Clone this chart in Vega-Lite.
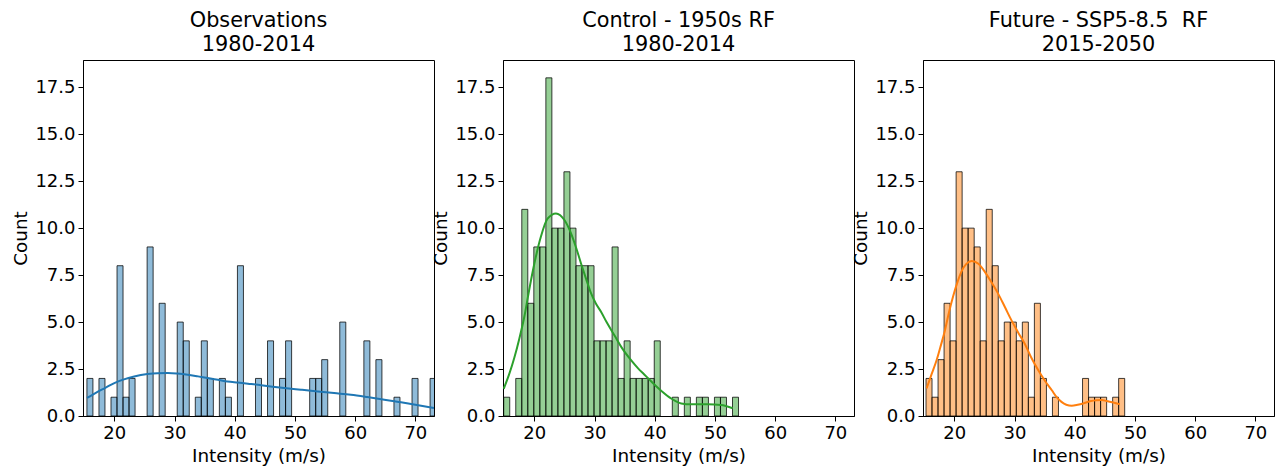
{
  "$schema": "https://vega.github.io/schema/vega-lite/v6.json",
  "padding": {"left": 11, "top": 9, "right": 4, "bottom": 2},
  "background": "white",
  "config": {
    "font": "DejaVu Sans",
    "view": {"stroke": "black", "strokeWidth": 1},
    "axis": {
      "labelFont": "DejaVu Sans", "titleFont": "DejaVu Sans",
      "labelFontSize": 18, "titleFontSize": 18.4,
      "labelColor": "black", "titleColor": "black", "titleFontWeight": "normal",
      "tickColor": "black", "domainColor": "black", "tickSize": 5, "tickWidth": 1,
      "labelPadding": 3, "titlePadding": 4, "grid": false
    },
    "title": {"font": "DejaVu Sans", "fontSize": 20.8, "fontWeight": "normal", "color": "black", "lineHeight": 24, "offset": 4}
  },
  "datasets": {
    "hist": [
      {"p": "obs", "lo": 15.45, "hi": 16.45, "n": 2},
      {"p": "obs", "lo": 17.45, "hi": 18.45, "n": 2},
      {"p": "obs", "lo": 19.45, "hi": 20.45, "n": 1},
      {"p": "obs", "lo": 20.45, "hi": 21.45, "n": 8},
      {"p": "obs", "lo": 21.45, "hi": 22.45, "n": 1},
      {"p": "obs", "lo": 22.45, "hi": 23.45, "n": 2},
      {"p": "obs", "lo": 25.45, "hi": 26.45, "n": 9},
      {"p": "obs", "lo": 27.45, "hi": 28.45, "n": 6},
      {"p": "obs", "lo": 30.45, "hi": 31.45, "n": 5},
      {"p": "obs", "lo": 31.45, "hi": 32.45, "n": 4},
      {"p": "obs", "lo": 33.45, "hi": 34.45, "n": 1},
      {"p": "obs", "lo": 34.45, "hi": 35.45, "n": 4},
      {"p": "obs", "lo": 35.45, "hi": 36.45, "n": 2},
      {"p": "obs", "lo": 37.45, "hi": 38.45, "n": 2},
      {"p": "obs", "lo": 38.45, "hi": 39.45, "n": 1},
      {"p": "obs", "lo": 40.45, "hi": 41.45, "n": 8},
      {"p": "obs", "lo": 43.45, "hi": 44.45, "n": 2},
      {"p": "obs", "lo": 45.45, "hi": 46.45, "n": 4},
      {"p": "obs", "lo": 47.45, "hi": 48.45, "n": 2},
      {"p": "obs", "lo": 48.45, "hi": 49.45, "n": 4},
      {"p": "obs", "lo": 52.45, "hi": 53.45, "n": 2},
      {"p": "obs", "lo": 53.45, "hi": 54.45, "n": 2},
      {"p": "obs", "lo": 54.45, "hi": 55.45, "n": 3},
      {"p": "obs", "lo": 57.45, "hi": 58.45, "n": 5},
      {"p": "obs", "lo": 61.45, "hi": 62.45, "n": 4},
      {"p": "obs", "lo": 63.45, "hi": 64.45, "n": 3},
      {"p": "obs", "lo": 66.45, "hi": 67.45, "n": 1},
      {"p": "obs", "lo": 69.45, "hi": 70.45, "n": 2},
      {"p": "obs", "lo": 72.45, "hi": 73.45, "n": 2},
      {"p": "ctl", "lo": 14.92, "hi": 15.92, "n": 1},
      {"p": "ctl", "lo": 16.92, "hi": 17.92, "n": 2},
      {"p": "ctl", "lo": 17.92, "hi": 18.92, "n": 11},
      {"p": "ctl", "lo": 18.92, "hi": 19.92, "n": 6},
      {"p": "ctl", "lo": 19.92, "hi": 20.92, "n": 9},
      {"p": "ctl", "lo": 20.92, "hi": 21.92, "n": 9},
      {"p": "ctl", "lo": 21.92, "hi": 22.92, "n": 18},
      {"p": "ctl", "lo": 22.92, "hi": 23.92, "n": 10},
      {"p": "ctl", "lo": 23.92, "hi": 24.92, "n": 10},
      {"p": "ctl", "lo": 24.92, "hi": 25.92, "n": 13},
      {"p": "ctl", "lo": 25.92, "hi": 26.92, "n": 10},
      {"p": "ctl", "lo": 26.92, "hi": 27.92, "n": 8},
      {"p": "ctl", "lo": 27.92, "hi": 28.92, "n": 8},
      {"p": "ctl", "lo": 28.92, "hi": 29.92, "n": 8},
      {"p": "ctl", "lo": 29.92, "hi": 30.92, "n": 4},
      {"p": "ctl", "lo": 30.92, "hi": 31.92, "n": 4},
      {"p": "ctl", "lo": 31.92, "hi": 32.92, "n": 4},
      {"p": "ctl", "lo": 32.92, "hi": 33.92, "n": 9},
      {"p": "ctl", "lo": 33.92, "hi": 34.92, "n": 2},
      {"p": "ctl", "lo": 34.92, "hi": 35.92, "n": 4},
      {"p": "ctl", "lo": 35.92, "hi": 36.92, "n": 2},
      {"p": "ctl", "lo": 36.92, "hi": 37.92, "n": 2},
      {"p": "ctl", "lo": 37.92, "hi": 38.92, "n": 2},
      {"p": "ctl", "lo": 38.92, "hi": 39.92, "n": 2},
      {"p": "ctl", "lo": 39.92, "hi": 40.92, "n": 4},
      {"p": "ctl", "lo": 42.92, "hi": 43.92, "n": 1},
      {"p": "ctl", "lo": 44.92, "hi": 45.92, "n": 1},
      {"p": "ctl", "lo": 46.92, "hi": 47.92, "n": 1},
      {"p": "ctl", "lo": 47.92, "hi": 48.92, "n": 1},
      {"p": "ctl", "lo": 49.92, "hi": 50.92, "n": 1},
      {"p": "ctl", "lo": 50.92, "hi": 51.92, "n": 1},
      {"p": "ctl", "lo": 52.92, "hi": 53.92, "n": 1},
      {"p": "fut", "lo": 15.3, "hi": 16.3, "n": 2},
      {"p": "fut", "lo": 16.3, "hi": 17.3, "n": 1},
      {"p": "fut", "lo": 17.3, "hi": 18.3, "n": 3},
      {"p": "fut", "lo": 18.3, "hi": 19.3, "n": 6},
      {"p": "fut", "lo": 19.3, "hi": 20.3, "n": 4},
      {"p": "fut", "lo": 20.3, "hi": 21.3, "n": 13},
      {"p": "fut", "lo": 21.3, "hi": 22.3, "n": 10},
      {"p": "fut", "lo": 22.3, "hi": 23.3, "n": 10},
      {"p": "fut", "lo": 23.3, "hi": 24.3, "n": 9},
      {"p": "fut", "lo": 24.3, "hi": 25.3, "n": 4},
      {"p": "fut", "lo": 25.3, "hi": 26.3, "n": 11},
      {"p": "fut", "lo": 26.3, "hi": 27.3, "n": 8},
      {"p": "fut", "lo": 27.3, "hi": 28.3, "n": 4},
      {"p": "fut", "lo": 28.3, "hi": 29.3, "n": 5},
      {"p": "fut", "lo": 29.3, "hi": 30.3, "n": 5},
      {"p": "fut", "lo": 30.3, "hi": 31.3, "n": 4},
      {"p": "fut", "lo": 31.3, "hi": 32.3, "n": 5},
      {"p": "fut", "lo": 32.3, "hi": 33.3, "n": 1},
      {"p": "fut", "lo": 33.3, "hi": 34.3, "n": 6},
      {"p": "fut", "lo": 34.3, "hi": 35.3, "n": 2},
      {"p": "fut", "lo": 36.3, "hi": 37.3, "n": 1},
      {"p": "fut", "lo": 41.3, "hi": 42.3, "n": 2},
      {"p": "fut", "lo": 42.3, "hi": 43.3, "n": 1},
      {"p": "fut", "lo": 43.3, "hi": 44.3, "n": 1},
      {"p": "fut", "lo": 44.3, "hi": 45.3, "n": 1},
      {"p": "fut", "lo": 46.3, "hi": 47.3, "n": 1},
      {"p": "fut", "lo": 47.3, "hi": 48.3, "n": 2}
    ],
    "kde": [
      {"p": "obs", "x": 15.47, "y": 0.96}, {"p": "obs", "x": 17.0, "y": 1.25}, {"p": "obs", "x": 18.5, "y": 1.5},
      {"p": "obs", "x": 20.0, "y": 1.75}, {"p": "obs", "x": 21.6, "y": 1.95}, {"p": "obs", "x": 23.3, "y": 2.1},
      {"p": "obs", "x": 25.5, "y": 2.23}, {"p": "obs", "x": 27.2, "y": 2.28}, {"p": "obs", "x": 28.9, "y": 2.29},
      {"p": "obs", "x": 30.5, "y": 2.26}, {"p": "obs", "x": 32.2, "y": 2.2}, {"p": "obs", "x": 33.9, "y": 2.11},
      {"p": "obs", "x": 35.5, "y": 2.02}, {"p": "obs", "x": 37.2, "y": 1.93}, {"p": "obs", "x": 38.8, "y": 1.84},
      {"p": "obs", "x": 40.5, "y": 1.78}, {"p": "obs", "x": 42.2, "y": 1.72}, {"p": "obs", "x": 44.4, "y": 1.64},
      {"p": "obs", "x": 46.3, "y": 1.56}, {"p": "obs", "x": 48.2, "y": 1.49}, {"p": "obs", "x": 51.0, "y": 1.4},
      {"p": "obs", "x": 53.8, "y": 1.31}, {"p": "obs", "x": 56.5, "y": 1.22}, {"p": "obs", "x": 59.3, "y": 1.13},
      {"p": "obs", "x": 62.0, "y": 1.01}, {"p": "obs", "x": 64.85, "y": 0.87}, {"p": "obs", "x": 67.0, "y": 0.76},
      {"p": "obs", "x": 69.3, "y": 0.64}, {"p": "obs", "x": 71.2, "y": 0.53}, {"p": "obs", "x": 73.1, "y": 0.43},
      {"p": "ctl", "x": 14.92, "y": 1.45}, {"p": "ctl", "x": 15.8, "y": 2.2}, {"p": "ctl", "x": 16.68, "y": 3.1},
      {"p": "ctl", "x": 17.5, "y": 4.1}, {"p": "ctl", "x": 18.34, "y": 5.28}, {"p": "ctl", "x": 19.2, "y": 6.8},
      {"p": "ctl", "x": 20.0, "y": 8.1}, {"p": "ctl", "x": 21.1, "y": 9.55}, {"p": "ctl", "x": 22.2, "y": 10.5},
      {"p": "ctl", "x": 23.6, "y": 10.78}, {"p": "ctl", "x": 25.0, "y": 10.43}, {"p": "ctl", "x": 26.1, "y": 9.72},
      {"p": "ctl", "x": 27.0, "y": 8.9}, {"p": "ctl", "x": 27.76, "y": 8.12}, {"p": "ctl", "x": 28.6, "y": 7.3},
      {"p": "ctl", "x": 29.4, "y": 6.55}, {"p": "ctl", "x": 30.2, "y": 6.0}, {"p": "ctl", "x": 31.08, "y": 5.55},
      {"p": "ctl", "x": 32.0, "y": 5.0}, {"p": "ctl", "x": 33.3, "y": 4.3}, {"p": "ctl", "x": 34.6, "y": 3.6},
      {"p": "ctl", "x": 36.0, "y": 3.0}, {"p": "ctl", "x": 37.2, "y": 2.55}, {"p": "ctl", "x": 38.3, "y": 2.2},
      {"p": "ctl", "x": 39.4, "y": 1.85}, {"p": "ctl", "x": 40.2, "y": 1.6}, {"p": "ctl", "x": 41.07, "y": 1.35},
      {"p": "ctl", "x": 42.7, "y": 0.94}, {"p": "ctl", "x": 44.4, "y": 0.67}, {"p": "ctl", "x": 46.05, "y": 0.62},
      {"p": "ctl", "x": 48.8, "y": 0.62}, {"p": "ctl", "x": 51.0, "y": 0.58}, {"p": "ctl", "x": 52.95, "y": 0.41},
      {"p": "fut", "x": 15.4, "y": 1.47}, {"p": "fut", "x": 16.2, "y": 2.2}, {"p": "fut", "x": 17.07, "y": 2.98},
      {"p": "fut", "x": 17.8, "y": 3.8}, {"p": "fut", "x": 18.45, "y": 4.57}, {"p": "fut", "x": 19.1, "y": 5.5},
      {"p": "fut", "x": 19.83, "y": 6.4}, {"p": "fut", "x": 20.5, "y": 7.1}, {"p": "fut", "x": 21.2, "y": 7.7},
      {"p": "fut", "x": 22.0, "y": 8.1}, {"p": "fut", "x": 22.9, "y": 8.25}, {"p": "fut", "x": 24.0, "y": 8.1},
      {"p": "fut", "x": 25.1, "y": 7.66}, {"p": "fut", "x": 26.2, "y": 7.1}, {"p": "fut", "x": 27.3, "y": 6.5},
      {"p": "fut", "x": 28.4, "y": 5.8}, {"p": "fut", "x": 29.5, "y": 5.09}, {"p": "fut", "x": 30.6, "y": 4.45},
      {"p": "fut", "x": 31.7, "y": 3.85}, {"p": "fut", "x": 32.8, "y": 3.1}, {"p": "fut", "x": 33.95, "y": 2.43},
      {"p": "fut", "x": 35.1, "y": 1.85}, {"p": "fut", "x": 36.2, "y": 1.37}, {"p": "fut", "x": 37.0, "y": 1.0},
      {"p": "fut", "x": 37.8, "y": 0.75}, {"p": "fut", "x": 38.6, "y": 0.6}, {"p": "fut", "x": 39.5, "y": 0.55},
      {"p": "fut", "x": 40.5, "y": 0.6}, {"p": "fut", "x": 41.4, "y": 0.67}, {"p": "fut", "x": 42.5, "y": 0.78},
      {"p": "fut", "x": 43.6, "y": 0.84}, {"p": "fut", "x": 44.5, "y": 0.85}, {"p": "fut", "x": 45.3, "y": 0.8},
      {"p": "fut", "x": 46.4, "y": 0.72}, {"p": "fut", "x": 47.5, "y": 0.63}
    ]
  },
  "spacing": 69,
  "bounds": "flush",
  "hconcat": [
    {
      "width": 351, "height": 356,
      "title": {"text": ["Observations", "1980-2014"]},
      "layer": [
        {
          "data": {"name": "hist"},
          "transform": [{"filter": "datum.p === 'obs'"}],
          "mark": {"type": "rect", "clip": true, "fill": "#1f77b4", "fillOpacity": 0.5, "stroke": "#000000", "strokeOpacity": 0.75, "strokeWidth": 1},
          "encoding": {
            "x": {"field": "lo", "type": "quantitative", "scale": {"domain": [14.8, 73.1], "nice": false, "zero": false}, "axis": {"values": [20, 30, 40, 50, 60, 70], "format": "d", "title": "Intensity (m/s)"}},
            "x2": {"field": "hi"},
            "y": {"field": "n", "type": "quantitative", "scale": {"domain": [0, 18.95], "nice": false}, "axis": {"values": [0, 2.5, 5, 7.5, 10, 12.5, 15, 17.5], "format": ".1f", "title": "Count"}},
            "y2": {"datum": 0}
          }
        },
        {
          "data": {"name": "kde"},
          "transform": [{"filter": "datum.p === 'obs'"}],
          "mark": {"type": "line", "clip": true, "color": "#1f77b4", "strokeWidth": 2, "interpolate": "monotone"},
          "encoding": {
            "x": {"field": "x", "type": "quantitative"},
            "y": {"field": "y", "type": "quantitative"}
          }
        }
      ]
    },
    {
      "width": 351, "height": 356,
      "title": {"text": ["Control - 1950s RF", "1980-2014"]},
      "layer": [
        {
          "data": {"name": "hist"},
          "transform": [{"filter": "datum.p === 'ctl'"}],
          "mark": {"type": "rect", "clip": true, "fill": "#2ca02c", "fillOpacity": 0.5, "stroke": "#000000", "strokeOpacity": 0.75, "strokeWidth": 1},
          "encoding": {
            "x": {"field": "lo", "type": "quantitative", "scale": {"domain": [14.8, 73.1], "nice": false, "zero": false}, "axis": {"values": [20, 30, 40, 50, 60, 70], "format": "d", "title": "Intensity (m/s)"}},
            "x2": {"field": "hi"},
            "y": {"field": "n", "type": "quantitative", "scale": {"domain": [0, 18.95], "nice": false}, "axis": {"values": [0, 2.5, 5, 7.5, 10, 12.5, 15, 17.5], "format": ".1f", "title": "Count"}},
            "y2": {"datum": 0}
          }
        },
        {
          "data": {"name": "kde"},
          "transform": [{"filter": "datum.p === 'ctl'"}],
          "mark": {"type": "line", "clip": true, "color": "#2ca02c", "strokeWidth": 2, "interpolate": "monotone"},
          "encoding": {
            "x": {"field": "x", "type": "quantitative"},
            "y": {"field": "y", "type": "quantitative"}
          }
        }
      ]
    },
    {
      "width": 351, "height": 356,
      "title": {"text": ["Future - SSP5-8.5\u00a0 RF", "2015-2050"]},
      "layer": [
        {
          "data": {"name": "hist"},
          "transform": [{"filter": "datum.p === 'fut'"}],
          "mark": {"type": "rect", "clip": true, "fill": "#ff7f0e", "fillOpacity": 0.5, "stroke": "#000000", "strokeOpacity": 0.75, "strokeWidth": 1},
          "encoding": {
            "x": {"field": "lo", "type": "quantitative", "scale": {"domain": [14.8, 73.1], "nice": false, "zero": false}, "axis": {"values": [20, 30, 40, 50, 60, 70], "format": "d", "title": "Intensity (m/s)"}},
            "x2": {"field": "hi"},
            "y": {"field": "n", "type": "quantitative", "scale": {"domain": [0, 18.95], "nice": false}, "axis": {"values": [0, 2.5, 5, 7.5, 10, 12.5, 15, 17.5], "format": ".1f", "title": "Count"}},
            "y2": {"datum": 0}
          }
        },
        {
          "data": {"name": "kde"},
          "transform": [{"filter": "datum.p === 'fut'"}],
          "mark": {"type": "line", "clip": true, "color": "#ff7f0e", "strokeWidth": 2, "interpolate": "monotone"},
          "encoding": {
            "x": {"field": "x", "type": "quantitative"},
            "y": {"field": "y", "type": "quantitative"}
          }
        }
      ]
    }
  ]
}
